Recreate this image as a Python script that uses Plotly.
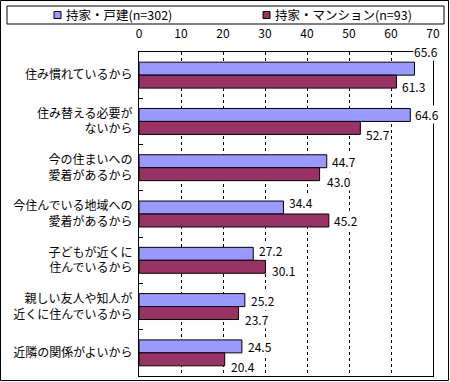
import plotly.graph_objects as go

categories = [
    "住み慣れているから",
    "住み替える必要が<br>ないから",
    "今の住まいへの<br>愛着があるから",
    "今住んでいる地域への<br>愛着があるから",
    "子どもが近くに<br>住んでいるから",
    "親しい友人や知人が<br>近くに住んでいるから",
    "近隣の関係がよいから",
]
series_names = ["持家・戸建(n=302)", "持家・マンション(n=93)"]
detached = [65.6, 64.6, 44.7, 34.4, 27.2, 25.2, 24.5]
condo = [61.3, 52.7, 43.0, 45.2, 30.1, 23.7, 20.4]
x_ticks = [0, 10, 20, 30, 40, 50, 60, 70]

# label placement tweaks (pixels) mimicking the original layout
det_dx = [-2, 4, 4, 4.5, 5, 5, 5]
det_dy = [17, 0, 0, 5.5, 3.5, 0, 0]
con_dx = [4.5, 5, 6, 4, 5.5, 5.5, 5]
con_dy = [-5, -7, -7, 0, -3.5, -6, -7]

BLUE = "#9999FF"
MAROON = "#993366"
FONT = "Noto Sans CJK JP"

L, R, T, B = 139, 17, 52, 6
W, H = 450, 382
PW, PH = W - L - R, H - T - B


def px(x):
    return (x - L) / PW


def py(y):
    return 1 - (y - T) / PH


fig = go.Figure()
fig.add_trace(go.Bar(y=categories, x=detached, name=series_names[0], orientation="h",
                     marker=dict(color=BLUE, line=dict(color="black", width=1))))
fig.add_trace(go.Bar(y=categories, x=condo, name=series_names[1], orientation="h",
                     marker=dict(color=MAROON, line=dict(color="black", width=1))))

bar_half = 6.5
for vals, dxs, dys, sign in ((detached, det_dx, det_dy, 1), (condo, con_dx, con_dy, -1)):
    for c, v, dx, dy in zip(categories, vals, dxs, dys):
        fig.add_annotation(x=v, y=c, xref="x", yref="y", text=f"{v:.1f}", showarrow=False,
                           xanchor="left", yanchor="middle", xshift=dx,
                           yshift=sign * bar_half + dy, bgcolor="white", borderpad=0,
                           font=dict(family=FONT, size=12, color="black"))

# manual legend
fig.add_shape(type="rect", xref="paper", yref="paper", x0=px(7), x1=px(444), y0=py(24), y1=py(6),
              line=dict(color="black", width=1), fillcolor="white")
for sx, col, name in ((54, BLUE, series_names[0]), (263, MAROON, series_names[1])):
    fig.add_shape(type="rect", xref="paper", yref="paper", x0=px(sx), x1=px(sx + 7),
                  y0=py(18.5), y1=py(11.5), line=dict(color="black", width=1), fillcolor=col)
    fig.add_annotation(xref="paper", yref="paper", x=px(sx + 10), y=py(15), text=name,
                       showarrow=False, xanchor="left", yanchor="middle",
                       font=dict(family=FONT, size=12.5, color="black"))

# outer frame
fig.add_shape(type="rect", xref="paper", yref="paper", x0=px(0.5), x1=px(448.5),
              y0=py(380.5), y1=py(0.5), line=dict(color="black", width=1), layer="below")

fig.update_layout(
    width=W, height=H, margin=dict(l=L, r=R, t=T, b=B, autoexpand=False),
    paper_bgcolor="white", plot_bgcolor="white",
    barmode="group", bargap=0.44, bargroupgap=0,
    showlegend=False,
    font=dict(family=FONT, size=12, color="black"),
    xaxis=dict(range=[0, 70], tickvals=x_ticks, side="top", showgrid=True, gridcolor="black",
               griddash="3px,3px", gridwidth=1, showline=True, mirror=True, linecolor="black",
               linewidth=1, zeroline=False, ticks="", ticklabelstandoff=8, automargin=False,
               tickfont=dict(family=FONT, size=12, color="black")),
    yaxis=dict(type="category", autorange="reversed", showline=True, mirror=True,
               linecolor="black", linewidth=1, ticks="inside", tickson="boundaries",
               ticklen=4, tickcolor="black", showgrid=False, ticklabelstandoff=3,
               automargin=False, tickfont=dict(family=FONT, size=12, color="black")),
)

fig.write_html("out.html", config={"displayModeBar": False},
               post_script="document.body.style.margin='0';document.body.style.padding='0';")
